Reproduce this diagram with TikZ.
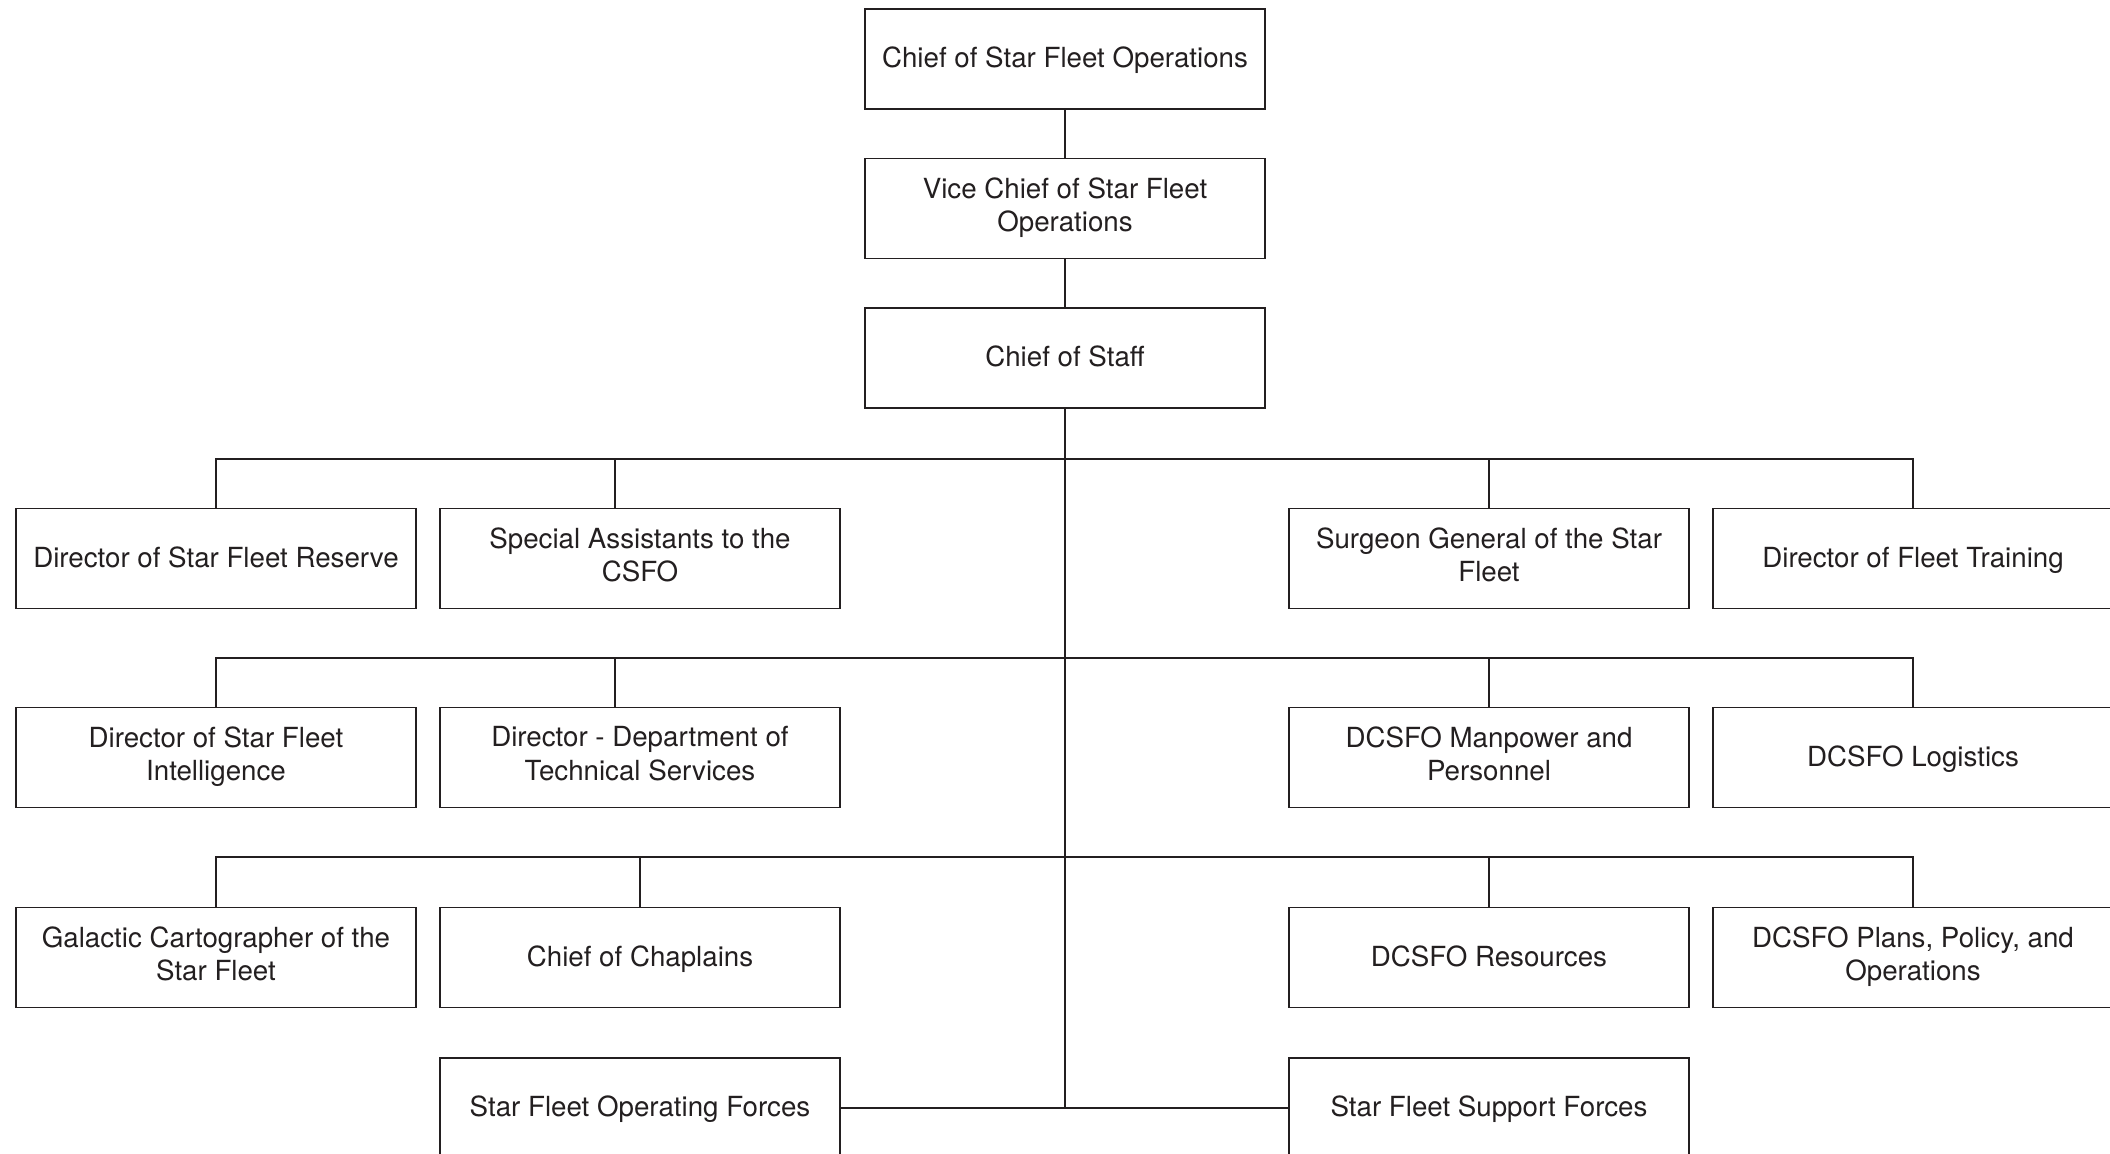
\documentclass[tikz,border=0pt]{standalone}
\usepackage{fontspec}
\setmainfont{TeX Gyre Heros}
\usetikzlibrary{calc}
\definecolor{ink}{HTML}{231F20}
\newcommand{\topstrut}{\rule{0pt}{12.7pt}}
\newcommand{\botstrut}{\rule[-4pt]{0pt}{4pt}}
\begin{document}
\begin{tikzpicture}[x=0.5pt,y=-0.5pt,
  orgbox/.style={draw=ink,line width=0.8pt,minimum width=200pt,minimum height=50pt,inner sep=0pt,align=center,text=ink,font=\fontsize{13.85}{16.7}\selectfont,execute at begin node=\topstrut,execute at end node=\botstrut},
  link/.style={draw=ink,line width=0.75pt}]
\useasboundingbox (0,0) rectangle (2110,1153);
\fill[white] (0,0) rectangle (2110,1153);
\clip (0,0) rectangle (2110,1153);
% top chain
\node[orgbox] (csfo) at (1065,59) {Chief of Star Fleet Operations};
\node[orgbox] (vice) at (1065,208.5) {Vice Chief of Star Fleet\\Operations};
\node[orgbox] (cos) at (1065,358) {Chief of Staff};
% row 1
\node[orgbox] (a1) at (216,558.5) {Director of Star Fleet Reserve};
\node[orgbox] (b1) at (640,558.5) {Special Assistants to the\\CSFO};
\node[orgbox] (c1) at (1489,558.5) {Surgeon General of the Star\\Fleet};
\node[orgbox] (d1) at (1913,558.5) {Director of Fleet Training};
% row 2
\node[orgbox] (a2) at (216,757.5) {Director of Star Fleet\\Intelligence};
\node[orgbox] (b2) at (640,757.5) {Director - Department of\\Technical Services};
\node[orgbox] (c2) at (1489,757.5) {DCSFO Manpower and\\Personnel};
\node[orgbox] (d2) at (1913,757.5) {DCSFO Logistics};
% row 3
\node[orgbox] (a3) at (216,957.5) {Galactic Cartographer of the\\Star Fleet};
\node[orgbox] (b3) at (640,957.5) {Chief of Chaplains};
\node[orgbox] (c3) at (1489,957.5) {DCSFO Resources};
\node[orgbox] (d3) at (1913,957.5) {DCSFO Plans, Policy, and\\Operations};
% row 4
\node[orgbox] (ops) at (640,1108) {Star Fleet Operating Forces};
\node[orgbox] (sup) at (1489,1108) {Star Fleet Support Forces};
% bus coordinates
\coordinate (bus1) at (1065,459);
\coordinate (bus2) at (1065,658);
\coordinate (bus3) at (1065,857);
% connectors
\draw[link] (csfo.south) -- (vice.north);
\draw[link] (vice.south) -- (cos.north);
\draw[link] (cos.south) -- (cos.south|-ops.east);
\draw[link] (ops.east) -- (sup.west);
% row 1
\draw[link] (a1.north) -- (a1.north|-bus1) -- (d1.north|-bus1) -- (d1.north);
\draw[link] ([xshift=-12.5pt]b1.north) -- ([xshift=-12.5pt]b1.north|-bus1);
\draw[link] (c1.north) -- (c1.north|-bus1);
% row 2
\draw[link] (a2.north) -- (a2.north|-bus2) -- (d2.north|-bus2) -- (d2.north);
\draw[link] ([xshift=-12.5pt]b2.north) -- ([xshift=-12.5pt]b2.north|-bus2);
\draw[link] (c2.north) -- (c2.north|-bus2);
% row 3
\draw[link] (a3.north) -- (a3.north|-bus3) -- (d3.north|-bus3) -- (d3.north);
\draw[link] (b3.north) -- (b3.north|-bus3);
\draw[link] (c3.north) -- (c3.north|-bus3);
\end{tikzpicture}
\end{document}
